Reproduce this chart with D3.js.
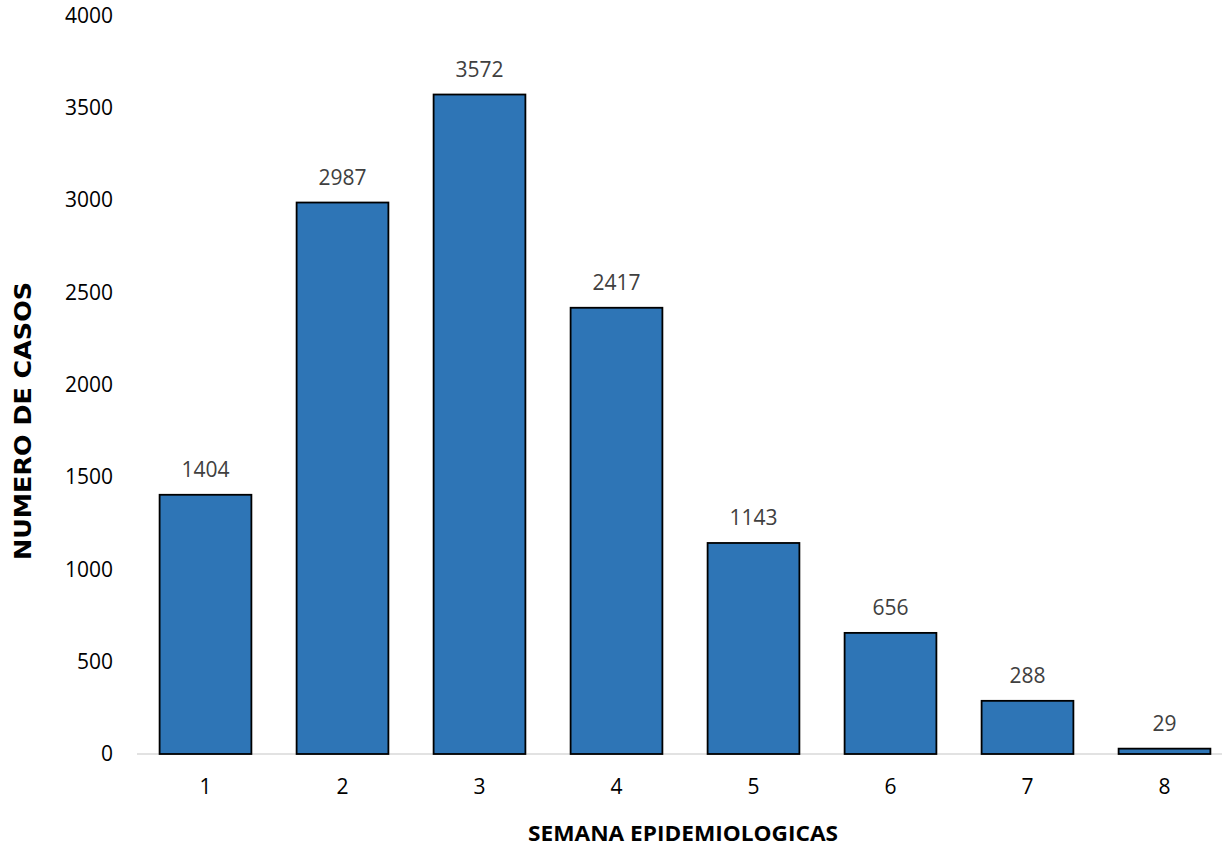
<!DOCTYPE html>
<html>
<head>
<meta charset="utf-8">
<script src="https://cdn.jsdelivr.net/npm/d3@7"></script>
<style>
  body { margin: 0; background: #fff; }
  text { font-family: "Open Sans", sans-serif; }
</style>
</head>
<body>
<div id="chart"></div>
<script>
// weeks and case counts
var weeks = ["1", "2", "3", "4", "5", "6", "7", "8"];
var cases = [1404, 2987, 3572, 2417, 1143, 656, 288, 29];
var yTicks = [0, 500, 1000, 1500, 2000, 2500, 3000, 3500, 4000];

var width = 1222, height = 847;

var svg = d3.select("#chart").append("svg")
    .attr("width", width)
    .attr("height", height);

var x = d3.scaleBand()
    .domain(weeks)
    .range([137, 1233])
    .paddingInner(0.33)
    .paddingOuter(0.165);

var y = d3.scaleLinear()
    .domain([0, 4000])
    .range([754, 15.5]);

// baseline
svg.append("line")
    .attr("x1", 137).attr("x2", width)
    .attr("y1", y(0)).attr("y2", y(0))
    .attr("stroke", "#d9d9d9")
    .attr("stroke-width", 1.5);

// bars
svg.append("g").selectAll("rect")
    .data(cases)
    .enter().append("rect")
      .attr("x", function(d, i) { return x(weeks[i]); })
      .attr("y", function(d) { return y(d); })
      .attr("width", x.bandwidth())
      .attr("height", function(d) { return y(0) - y(d); })
      .attr("fill", "#2E75B6")
      .attr("stroke", "#000")
      .attr("stroke-width", 1.8);

// value labels
svg.append("g").selectAll("text")
    .data(cases)
    .enter().append("text")
      .attr("x", function(d, i) { return x(weeks[i]) + x.bandwidth() / 2; })
      .attr("y", function(d) { return y(d) - 18; })
      .attr("text-anchor", "middle")
      .attr("font-size", 21)
      .attr("fill", "#404040")
      .text(function(d) { return d; });

// y tick labels
svg.append("g").selectAll("text")
    .data(yTicks)
    .enter().append("text")
      .attr("x", 113)
      .attr("y", function(d) { return y(d); })
      .attr("dy", "0.35em")
      .attr("text-anchor", "end")
      .attr("font-size", 21)
      .attr("fill", "#000")
      .text(function(d) { return d; });

// x tick labels
svg.append("g").selectAll("text")
    .data(weeks)
    .enter().append("text")
      .attr("x", function(d) { return x(d) + x.bandwidth() / 2; })
      .attr("y", 794)
      .attr("text-anchor", "middle")
      .attr("font-size", 21)
      .attr("fill", "#000")
      .text(function(d) { return d; });

// axis titles
svg.append("text")
    .attr("transform", "translate(31,421) rotate(-90)")
    .attr("text-anchor", "middle")
    .style("font-family", "'DejaVu Sans', sans-serif")
    .attr("font-weight", "bold")
    .attr("font-size", 23)
    .attr("textLength", 278)
    .attr("lengthAdjust", "spacingAndGlyphs")
    .text("NUMERO DE CASOS");

svg.append("text")
    .attr("x", 683)
    .attr("y", 841)
    .attr("text-anchor", "middle")
    .attr("font-weight", "bold")
    .attr("font-size", 21)
    .attr("textLength", 310)
    .attr("lengthAdjust", "spacingAndGlyphs")
    .text("SEMANA EPIDEMIOLOGICAS");
</script>
</body>
</html>
